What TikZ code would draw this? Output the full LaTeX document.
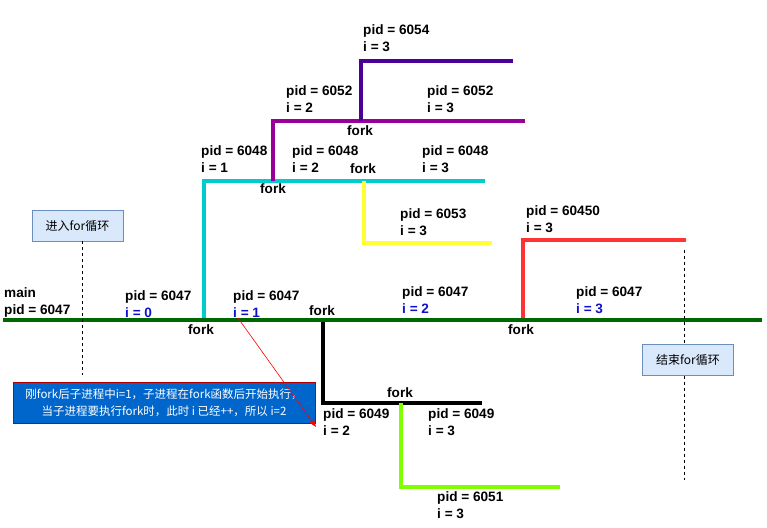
\documentclass[tikz,border=0pt]{standalone}
\usepackage{fontspec}
\setmainfont{Liberation Sans}
\newfontfamily\cjk{Noto Sans CJK SC}
\usetikzlibrary{arrows.meta}
\definecolor{mgreen}{HTML}{006600}
\definecolor{mcyan}{HTML}{00CCCC}
\definecolor{mpurple}{HTML}{990099}
\definecolor{mindigo}{HTML}{4C0099}
\definecolor{myellow}{HTML}{FFFF33}
\definecolor{mred}{HTML}{FF3333}
\definecolor{mlime}{HTML}{80FF00}
\definecolor{ivar}{HTML}{1010CC}
\definecolor{boxfill}{HTML}{DAE8FC}
\definecolor{boxline}{HTML}{6C8EBF}
\definecolor{notefill}{HTML}{0066CC}
\definecolor{noteline}{HTML}{B20000}
\tikzset{
  lbl/.style={font=\fontsize{13.6}{17}\selectfont\bfseries, anchor=base west, inner sep=0pt},
  proc/.style={line width=4.5pt},
  forbox/.style={draw=boxline, fill=boxfill, line width=0.8pt, font=\cjk\fontsize{12}{14}\selectfont, minimum width=91pt, minimum height=31pt, inner sep=0pt},
  guide/.style={dashed, line width=0.8pt, dash pattern=on 3pt off 3pt}
}
\newcommand{\plab}[6]{%
  \node[lbl] (#1p) at (#2,#3) {pid = #4};
  \node[lbl, text=#6] (#1i) at (#2,#3+17) {i = #5};}
\begin{document}
\begin{tikzpicture}[x=1pt,y=-1pt]
\useasboundingbox (0,0) rectangle (767,527);
% coordinates
\coordinate (g0) at (3,320); \coordinate (g1) at (762,320);
\coordinate (c0) at (204,320); \coordinate (c1) at (204,181); \coordinate (c2) at (485,181);
\coordinate (p0) at (273,181); \coordinate (p1) at (273,121); \coordinate (p2) at (525,121);
\coordinate (n0) at (361,121); \coordinate (n1) at (361,61); \coordinate (n2) at (513,61);
\coordinate (y0) at (364,181); \coordinate (y1) at (364,243); \coordinate (y2) at (492,243);
\coordinate (r0) at (523,320); \coordinate (r1) at (523,240); \coordinate (r2) at (686,240);
\coordinate (k0) at (323,320); \coordinate (k1) at (323,403); \coordinate (k2) at (482,403);
\coordinate (l0) at (401,403); \coordinate (l1) at (401,487); \coordinate (l2) at (560,487);
% process lines
\draw[proc, mcyan] (c0) -- (c1) -- (c2);
\draw[proc, mpurple] (p0) -- (p1) -- (p2);
\draw[proc, mindigo] (n0) -- (n1) -- (n2);
\draw[proc, myellow] (y0) -- (y1) -- (y2);
\draw[proc, mred] (r0) -- (r1) -- (r2);
\draw[proc, black] (k0) -- (k1) -- (k2);
\draw[proc, mlime] (l0) -- (l1) -- (l2);
\draw[proc, mgreen] (g0) -- (g1);
% for boxes and guides
\node[forbox] (enter) at (77.5,225.5) {进入for循环};
\node[forbox] (leave) at (688,360) {结束for循环};
\coordinate (e1) at (82,375);
\coordinate (q0) at (684,250); \coordinate (q1) at (684,480);
\draw[guide] (enter.south -| e1) -- (e1);
\draw[guide] (q0) -- (leave.north -| q0);
\draw[guide] (leave.south -| q1) -- (q1);
% labels
\node[lbl] (mainl) at (4,297) {main};
\node[lbl] (mainp) at (4,314) {pid = 6047};
\plab{a}{125}{300}{6047}{0}{ivar}
\plab{b}{233}{300}{6047}{1}{ivar}
\plab{c}{402}{296}{6047}{2}{ivar}
\plab{d}{576}{296}{6047}{3}{ivar}
\plab{e}{201}{155}{6048}{1}{black}
\plab{f}{292}{155}{6048}{2}{black}
\plab{h}{422}{155}{6048}{3}{black}
\plab{j}{286}{95}{6052}{2}{black}
\plab{m}{427}{95}{6052}{3}{black}
\plab{o}{363}{35}{6054}{3}{black}
\plab{s}{400}{218}{6053}{3}{black}
\plab{t}{526}{215}{60450}{3}{black}
\plab{u}{323}{418}{6049}{2}{black}
\plab{v}{428}{418}{6049}{3}{black}
\plab{w}{437}{501}{6051}{3}{black}
\node[lbl] (f1) at (188,334) {fork};
\node[lbl] (f2) at (309,315) {fork};
\node[lbl] (f3) at (508,334) {fork};
\node[lbl] (f4) at (260,193) {fork};
\node[lbl] (f5) at (350,173) {fork};
\node[lbl] (f6) at (347,135) {fork};
\node[lbl] (f7) at (387,397) {fork};
% note
\node[draw=noteline, fill=notefill, line width=0.8pt, text=white, minimum width=302pt, minimum height=41pt, inner sep=0pt, align=center, font=\cjk\fontsize{11.5}{17}\selectfont] (note) at (164,402.5) {刚fork后子进程中i=1，子进程在fork函数后开始执行，\\当子进程要执行fork时，此时 i 已经++，所以 i=2};
\coordinate (as) at (238,318);
\coordinate (at) at (316,427);
\draw[red, line width=0.6pt, -{Triangle[length=7pt,width=5pt]}] (as) -- (at);
\end{tikzpicture}
\end{document}
